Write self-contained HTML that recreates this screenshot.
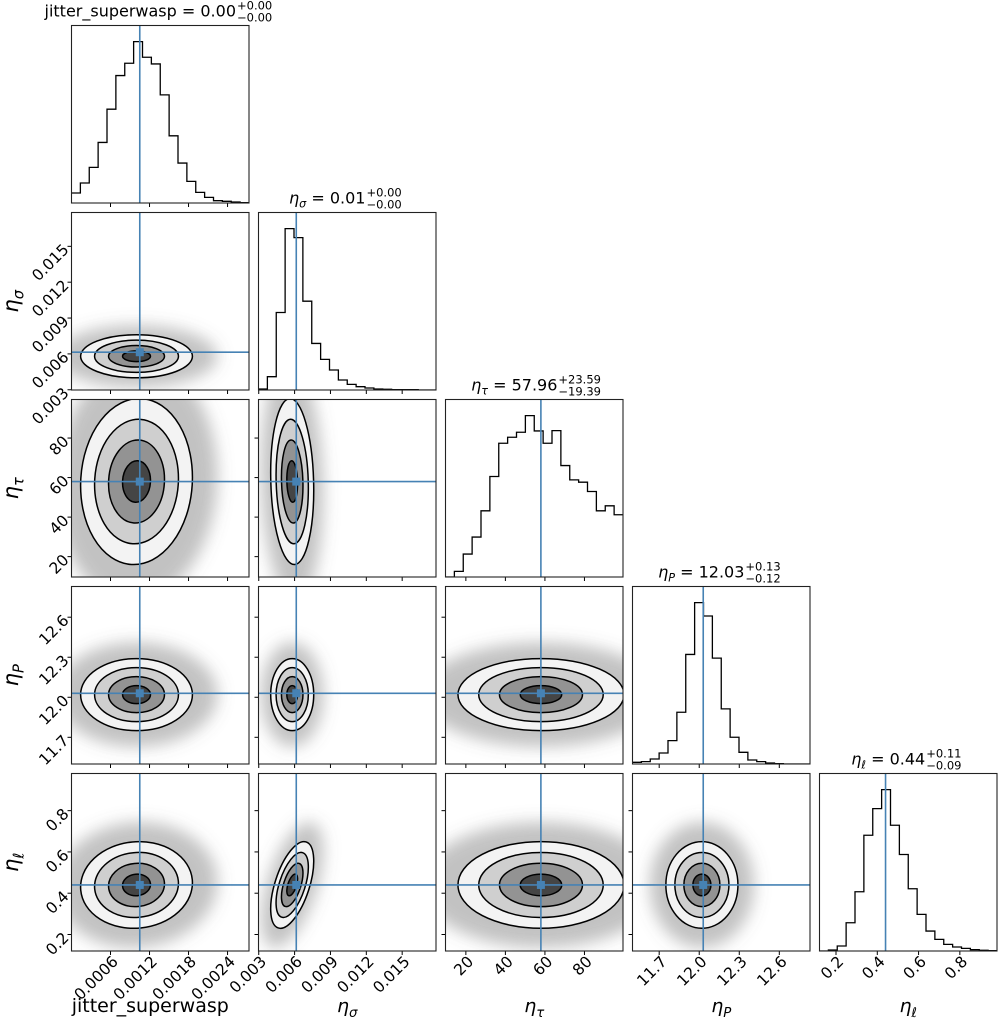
<!DOCTYPE html>
<html><head><meta charset="utf-8">
<style>
html,body{margin:0;padding:0;background:#fff;}
svg{display:block;font-family:"DejaVu Sans","Liberation Sans",sans-serif;}
</style></head>
<body>
<svg id="chart" width="1000" height="1027" viewBox="0 0 1000 1027" xmlns="http://www.w3.org/2000/svg">
<defs><filter id="blur" x="-50%" y="-50%" width="200%" height="200%"><feGaussianBlur stdDeviation="8"/></filter></defs>
</svg>
<script>
// ---- data ----
const varBase = ["jitter_superwasp","η","η","η","η"];
const varSub = ["","σ","τ","P","ℓ"];
const titleValue = [" = 0.00"," = 0.01"," = 57.96"," = 12.03"," = 0.44"];
const titlePlus = ["+0.00","+0.00","+23.59","+0.13","+0.11"];
const titleMinus = ["−0.00","−0.00","−19.39","−0.12","−0.09"];
const rangeMin = [0, 0.00298, 9.7, 11.5, 0.12];
const rangeMax = [0.00273, 0.01783, 99.5, 12.83, 0.98];
const medians = [0.00105, 0.00614, 57.96, 12.03, 0.44];
const centers = [0.00100, 0.0058, 58, 12.02, 0.44];
const sigmas = [0.00043, 0.0009, 21, 0.135, 0.105];
const tickVals = [
  [0.0006,0.0012,0.0018,0.0024],
  [0.003,0.006,0.009,0.012,0.015],
  [20,40,60,80],
  [11.7,12.0,12.3,12.6],
  [0.2,0.4,0.6,0.8]];
const tickLabels = [
  ["0.0006","0.0012","0.0018","0.0024"],
  ["0.003","0.006","0.009","0.012","0.015"],
  ["20","40","60","80"],
  ["11.7","12.0","12.3","12.6"],
  ["0.2","0.4","0.6","0.8"]];
const hist0 = [30,60,107,182,282,383,420,485,438,418,325,202,120,65,32,17,7,5,3,1];
const hist1 = [3,40,233,485,458,267,140,92,60,30,17,10,6,3,2,1,1,1,0,0];
const hist2 = [0,17,69,120,199,302,402,420,435,485,439,402,440,335,292,285,257,199,214,187];
const hist3 = [5,7,15,33,70,155,328,483,443,317,165,80,35,12,7,3,1,0,0,0];
const hist4 = [0,3,15,85,178,348,428,485,378,290,187,110,60,35,20,12,8,4,2,1];
const hists = [hist0,hist1,hist2,hist3,hist4];
const corr = [
  [1,0,0.05,0,0.05],
  [0,1,-0.1,0,0.55],
  [0.05,-0.1,1,0,0],
  [0,0,0,1,0],
  [0.05,0.55,0,0,1]];
const levels = [2.0,1.5,1.0,0.5];
const levelFills = ["#f3f3f3","#cfcfcf","#939393","#454545"];

// ---- layout ----
const NS="http://www.w3.org/2000/svg";
const svg=document.getElementById('chart');
const L0=71.5, T0=25.5, STEP=187, SZ=177.5;
const BLUE="#4682b4";
function el(tag,attrs,parent){const e=document.createElementNS(NS,tag);for(const k in attrs)e.setAttribute(k,attrs[k]);(parent||svg).appendChild(e);return e;}
function xs(j,v){return L0+j*STEP+(v-rangeMin[j])/(rangeMax[j]-rangeMin[j])*SZ;}
function ys(i,v){return T0+i*STEP+SZ-(v-rangeMin[i])/(rangeMax[i]-rangeMin[i])*SZ;}
function addName(t,k,size){
  const a=el('tspan',{'font-style':k===0?'normal':'italic'},t); a.textContent=varBase[k];
  if(varSub[k]){const s=el('tspan',{'font-size':size*0.7,dy:size*0.25,'font-style':'italic'},t); s.textContent=varSub[k];}
}

for(let i=0;i<5;i++){
  for(let j=0;j<=i;j++){
    const px=L0+j*STEP, py=T0+i*STEP;
    const g=el('g',{});
    
    
    const cid='clip'+i+'_'+j;
    const cp=el('clipPath',{id:cid},g); el('rect',{x:px,y:py,width:SZ,height:SZ},cp);
    const inner=el('g',{'clip-path':'url(#'+cid+')'},g);
    if(i===j){
      const h=hists[j]; const mx=Math.max(...h)*1.1; const n=h.length;
      let d='';
      for(let b=0;b<n;b++){
        const x0=px+b*SZ/n, x1=px+(b+1)*SZ/n, y=py+SZ-h[b]/mx*SZ;
        d+=(b===0?'M'+x0+','+y:'L'+x0+','+y)+'L'+x1+','+y;
      }
      const p=el('path',{d:d,fill:'none',stroke:'#000','stroke-width':1.3},inner);
      
      
      const mlx=xs(j,medians[j]);
      const ml=el('line',{x1:mlx,x2:mlx,y1:py,y2:py+SZ,stroke:BLUE,'stroke-width':1.6},inner);
      
      
      const t=el('text',{x:px+SZ/2-20,y:py-9,'text-anchor':'middle','font-size':16,fill:'#000'},g);
      addName(t,j,16);
      const v=el('tspan',{dy:varSub[j]?-4:0,'font-style':'normal'},t); v.textContent=titleValue[j];
      
      
      const bb=t.getBBox();
      const tp=el('text',{x:bb.x+bb.width+1,y:py-16,'font-size':11.5},g); tp.textContent=titlePlus[j];
      
      
      const tm=el('text',{x:bb.x+bb.width+1,y:py-4,'font-size':11.5},g); tm.textContent=titleMinus[j];
      
      
    } else {
      const kx=SZ/(rangeMax[j]-rangeMin[j]), ky=SZ/(rangeMax[i]-rangeMin[i]);
      const sx=sigmas[j]*kx, sy=sigmas[i]*ky, r=-corr[i][j];
      const sxx=sx*sx, syy=sy*sy, sxy=r*sx*sy;
      const th=0.5*Math.atan2(2*sxy,sxx-syy)*180/Math.PI;
      const m=(sxx+syy)/2, dd=Math.sqrt(((sxx-syy)/2)**2+sxy*sxy);
      const a=Math.sqrt(m+dd), b=Math.sqrt(Math.max(m-dd,1));
      const cx=xs(j,centers[j]), cy=ys(i,centers[i]);
      const tr='rotate('+th+' '+cx+' '+cy+')';
      const halo=el('ellipse',{cx:cx,cy:cy,rx:a*2.9,ry:b*2.9,transform:tr,fill:'#666','fill-opacity':0.4,filter:'url(#blur)'},inner);
      
      
      levels.forEach((lv,k)=>{
        const e=el('ellipse',{cx:cx,cy:cy,rx:a*lv,ry:b*lv,transform:tr,fill:levelFills[k],stroke:'#000','stroke-width':1.5},inner);
        
        
      });
      const mx=xs(j,medians[j]), my=ys(i,medians[i]);
      const v=el('line',{x1:mx,x2:mx,y1:py,y2:py+SZ,stroke:BLUE,'stroke-width':1.6},inner);
      
      
      const hh=el('line',{x1:px,x2:px+SZ,y1:my,y2:my,stroke:BLUE,'stroke-width':1.6},inner);
      
      
      const sq=el('rect',{x:mx-4,y:my-4,width:8,height:8,fill:BLUE},inner);
      
      
      tickVals[i].forEach((tv,k)=>{
        const ty=ys(i,tv);
        el('line',{x1:px-4,x2:px,y1:ty,y2:ty,stroke:'#000','stroke-width':1},g);
        if(j===0){
          const tl=el('text',{x:px-6,y:ty+6,'text-anchor':'end','font-size':15.5,transform:'rotate(-45 '+(px-6)+' '+ty+')'},g);
          tl.textContent=tickLabels[i][k];
          
          
        }
      });
    }
    tickVals[j].forEach((tv,k)=>{
      const tx=xs(j,tv);
      el('line',{x1:tx,x2:tx,y1:py+SZ,y2:py+SZ+4,stroke:'#000','stroke-width':1},g);
      if(i===4){
        const tl=el('text',{x:tx+5,y:py+SZ+13,'text-anchor':'end','font-size':15.5,transform:'rotate(-45 '+(tx+5)+' '+(py+SZ+8)+')'},g);
        tl.textContent=tickLabels[j][k];
        
        
      }
    });
    const fr=el('rect',{x:px,y:py,width:SZ,height:SZ,fill:'none',stroke:'#222','stroke-width':1.1},g);
    
    
  }
}
for(let j=0;j<5;j++){
  const t=el('text',{x:L0+j*STEP+SZ/2+(j===0?-10:0),y:1012,'text-anchor':'middle','font-size':19});
  addName(t,j,19);
  
  
}
for(let i=1;i<5;i++){
  const y=T0+i*STEP+SZ/2;
  const t=el('text',{x:18,y:y,'text-anchor':'middle','font-size':21,transform:'rotate(-90 18 '+y+')'});
  addName(t,i,21);
  
  
}
</script>
</body></html>
